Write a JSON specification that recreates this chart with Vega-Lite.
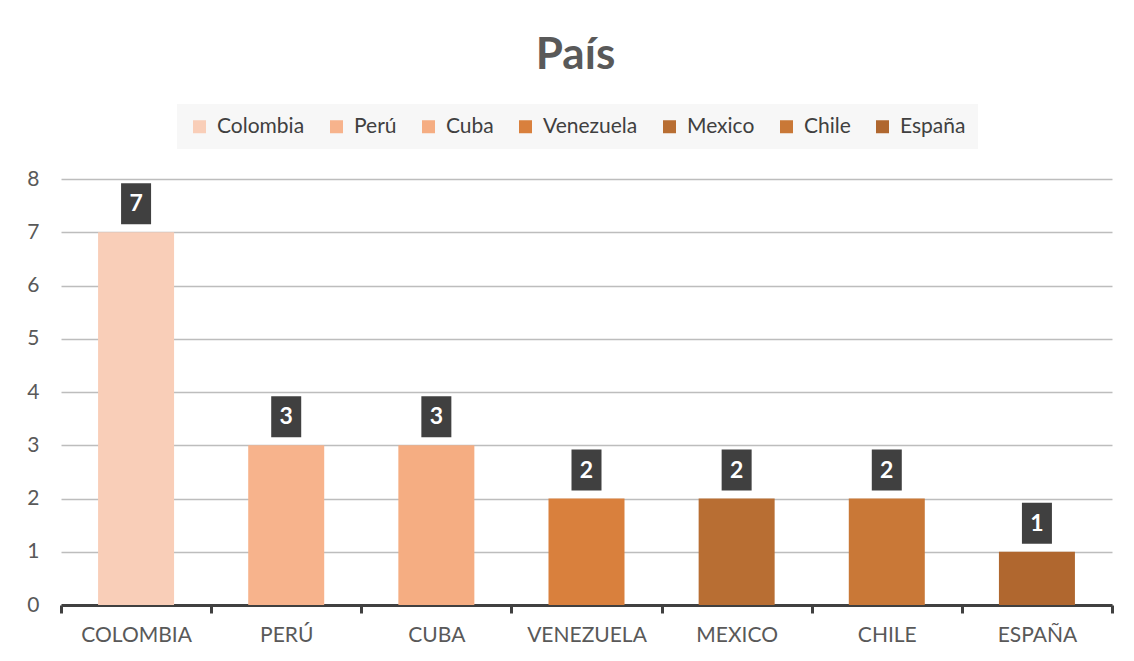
{
  "$schema": "https://vega.github.io/schema/vega-lite/v6.json",
  "width": 1051,
  "height": 426,
  "autosize": {"type": "none"},
  "padding": {"left": 61, "top": 179, "right": 22, "bottom": 56},
  "background": "white",
  "title": {
    "text": "País",
    "font": "Lato",
    "fontSize": 44,
    "fontWeight": "bold",
    "color": "#595959",
    "anchor": "middle",
    "dx": -11,
    "offset": 26
  },
  "data": {
    "values": [
      {"pais": "Colombia", "n": 7},
      {"pais": "Perú", "n": 3},
      {"pais": "Cuba", "n": 3},
      {"pais": "Venezuela", "n": 2},
      {"pais": "Mexico", "n": 2},
      {"pais": "Chile", "n": 2},
      {"pais": "España", "n": 1}
    ]
  },
  "encoding": {
    "x": {
      "field": "pais",
      "type": "nominal",
      "sort": null,
      "scale": {"paddingInner": 0, "paddingOuter": 0},
      "axis": {
        "title": null,
        "labelAngle": 0,
        "labelExpr": "upper(datum.label)",
        "labelFont": "Lato",
        "labelFontSize": 21,
        "labelColor": "#595959",
        "labelPadding": 11,
        "domainColor": "#404040",
        "domainWidth": 3,
        "tickBand": "extent",
        "tickColor": "#404040",
        "tickWidth": 3,
        "tickSize": 8
      }
    },
    "y": {
      "field": "n",
      "type": "quantitative",
      "scale": {"domain": [0, 8]},
      "axis": {
        "title": null,
        "tickCount": 8,
        "domain": false,
        "ticks": false,
        "labelFont": "Lato",
        "labelFontSize": 21,
        "labelColor": "#595959",
        "labelPadding": 22,
        "gridColor": "#bdbdbd",
        "gridWidth": 1.3
      }
    }
  },
  "layer": [
    {
      "mark": {"type": "bar", "width": 76},
      "encoding": {
        "color": {
          "field": "pais",
          "type": "nominal",
          "scale": {
            "domain": ["Colombia", "Perú", "Cuba", "Venezuela", "Mexico", "Chile", "España"],
            "range": ["#f9ceb8", "#f7b38c", "#f5ad82", "#d9803d", "#b86e33", "#c97837", "#b0672f"]
          },
          "legend": {
            "title": null,
            "orient": "none",
            "direction": "horizontal",
            "legendX": 116,
            "legendY": -75,
            "fillColor": "#f7f7f7",
            "padding": 12,
            "symbolType": "square",
            "symbolSize": 169,
            "symbolStrokeWidth": 0,
            "labelFont": "Lato",
            "labelFontSize": 21,
            "labelColor": "#404040",
            "labelOffset": 7,
            "columnPadding": 21
          }
        }
      }
    },
    {
      "mark": {"type": "bar", "width": 30, "color": "#404040", "yOffset": -49, "y2Offset": -8},
      "encoding": {
        "y2": {"field": "n"}
      }
    },
    {
      "mark": {
        "type": "text",
        "color": "white",
        "font": "Lato",
        "fontSize": 23,
        "fontWeight": "bold",
        "baseline": "middle",
        "yOffset": -28
      },
      "encoding": {
        "text": {"field": "n", "type": "quantitative"}
      }
    }
  ],
  "config": {
    "view": {"stroke": null}
  }
}
